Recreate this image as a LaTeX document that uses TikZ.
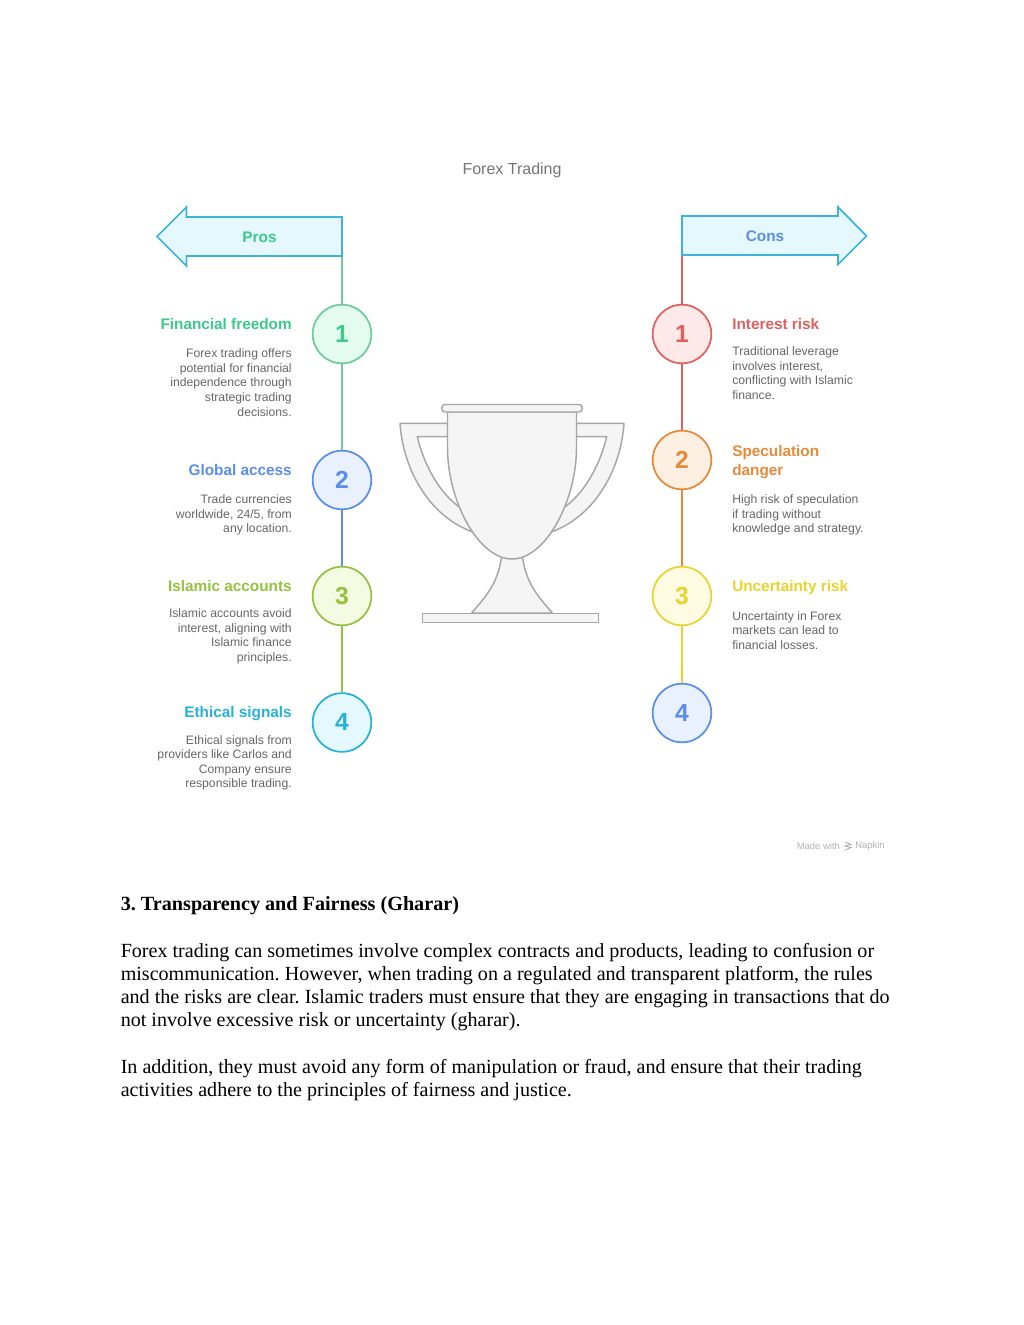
\documentclass[tikz,border=0pt]{standalone}
\usepackage{fontspec}
\setmainfont{Liberation Serif}
\newfontfamily\napfont{Liberation Sans}
\usetikzlibrary{positioning,arrows.meta}

\definecolor{prosgreen}{HTML}{3CC98A}
\definecolor{linegreen}{HTML}{6FCB9B}
\definecolor{tintgreen}{HTML}{E4FBF0}
\definecolor{infoblue}{HTML}{5B8DEA}
\definecolor{tintblue}{HTML}{E9F1FE}
\definecolor{limegreen}{HTML}{94C23F}
\definecolor{tintlime}{HTML}{F4FBE3}
\definecolor{skycyan}{HTML}{27B1D9}
\definecolor{tintsky}{HTML}{E4F8FE}
\definecolor{riskred}{HTML}{E05F5F}
\definecolor{tintred}{HTML}{FDE9E8}
\definecolor{riskorange}{HTML}{E68A3A}
\definecolor{tintorange}{HTML}{FDF0E3}
\definecolor{riskyellow}{HTML}{E9D32E}
\definecolor{tintyellow}{HTML}{FEFBE2}
\definecolor{cupfill}{HTML}{F5F5F5}
\definecolor{cupline}{HTML}{A6A6A6}
\definecolor{bodygray}{HTML}{666666}
\definecolor{arrowline}{HTML}{3DB2DC}

\begin{document}
\frenchspacing
\begin{tikzpicture}[
  x=0.75pt, y=-0.75pt,
  stepnum/.style={circle, draw, line width=1.3pt, minimum size=44pt, inner sep=0pt,
    font=\napfont\bfseries\fontsize{18.5}{18.5}\selectfont},
  head/.style={inner sep=0pt, font=\napfont\bfseries\fontsize{11.5}{14.6}\selectfont},
  lefthead/.style={head, anchor=base east},
  righthead/.style={head, anchor=base west},
  leftnote/.style={inner sep=0pt, anchor=north east, align=right, text=bodygray,
    font=\napfont\fontsize{9.15}{10.95}\selectfont},
  rightnote/.style={inner sep=0pt, anchor=north west, align=left, text=bodygray,
    font=\napfont\fontsize{9.15}{10.95}\selectfont},
  spine/.style={line width=1.3pt},
  banner/.style={draw=arrowline, fill=tintsky, line width=1.3pt, line join=miter},
  cup/.style={draw=cupline, fill=cupfill, line width=1.1pt, line join=round}
]
\useasboundingbox (0,0) rectangle (1024,1325);

\node[inner sep=0pt, text=bodygray!90, font=\napfont\fontsize{12}{14}\selectfont] (title) at (512,170) {Forex Trading};

% banners
\draw[banner] (157,236.5) -- (186.5,207) -- (186.5,217) -- (342,217) -- (342,256) -- (186.5,256) -- (186.5,266) -- cycle;
\draw[banner] (866.5,236) -- (838,207) -- (838,216) -- (682,216) -- (682,255) -- (838,255) -- (838,264.5) -- cycle;
\coordinate (prosfoot) at (342,256.6);
\coordinate (consfoot) at (682,255.6);
\node[head, text=prosgreen, anchor=base] (pros) at (259.5,242) {Pros};
\node[head, text=infoblue, anchor=base] (cons) at (765,241.5) {Cons};

% left column
\node[stepnum, draw=linegreen, fill=tintgreen, text=prosgreen] (p1) at (342,334) {1};
\node[stepnum, draw=infoblue, fill=tintblue, text=infoblue] (p2) at (342,480) {2};
\node[stepnum, draw=limegreen, fill=tintlime, text=limegreen] (p3) at (342,596) {3};
\node[stepnum, draw=skycyan, fill=tintsky, text=skycyan] (p4) at (342,722.5) {4};
\draw[spine, linegreen] (prosfoot) -- (p1);
\draw[spine, linegreen] (p1) -- (p2);
\draw[spine, infoblue] (p2) -- (p3);
\draw[spine, limegreen] (p3) -- (p4);

\node[lefthead, text=prosgreen] (pt1) at (292,329.3) {Financial freedom};
\node[leftnote] (pn1) at (292,348.5) {Forex trading offers\\potential for financial\\independence through\\strategic trading\\decisions.};
\node[lefthead, text=infoblue] (pt2) at (292,475.3) {Global access};
\node[leftnote] (pn2) at (292,494.5) {Trade currencies\\worldwide, 24/5, from\\any location.};
\node[lefthead, text=limegreen] (pt3) at (292,591.8) {Islamic accounts};
\node[leftnote] (pn3) at (292,608.5) {Islamic accounts avoid\\interest, aligning with\\Islamic finance\\principles.};
\node[lefthead, text=skycyan] (pt4) at (292,717.8) {Ethical signals};
\node[leftnote] (pn4) at (292,735) {Ethical signals from\\providers like Carlos and\\Company ensure\\responsible trading.};

% right column
\node[stepnum, draw=riskred, fill=tintred, text=riskred] (c1) at (682,334) {1};
\node[stepnum, draw=riskorange, fill=tintorange, text=riskorange] (c2) at (682,460) {2};
\node[stepnum, draw=riskyellow, fill=tintyellow, text=riskyellow] (c3) at (682,596) {3};
\node[stepnum, draw=infoblue, fill=tintblue, text=infoblue] (c4) at (682,713) {4};
\draw[spine, riskred] (consfoot) -- (c1);
\draw[spine, riskred] (c1) -- (c2);
\draw[spine, riskorange] (c2) -- (c3);
\draw[spine, riskyellow] (c3) -- (c4);

\node[righthead, text=riskred] (ct1) at (732,329.3) {Interest risk};
\node[rightnote] (cn1) at (732,346.5) {Traditional leverage\\involves interest,\\conflicting with Islamic\\finance.};
\node[righthead, text=riskorange] (ct2) at (732,456) {Speculation};
\node[righthead, text=riskorange] (ct2b) at (732,475.3) {danger};
\node[rightnote] (cn2) at (732,494.5) {High risk of speculation\\if trading without\\knowledge and strategy.};
\node[righthead, text=riskyellow] (ct3) at (732,591.8) {Uncertainty risk};
\node[rightnote] (cn3) at (732,611) {Uncertainty in Forex\\markets can lead to\\financial losses.};

% trophy
\draw[cup] (447.5,423.3) -- (400,423.3) .. controls (403,470) and (430,518) .. (475,532.7)
  -- (462.7,509.3) .. controls (440,495) and (424,465) .. (417.3,436.7) -- (447.5,436.7) -- cycle;
\draw[cup] (576.5,423.3) -- (624,423.3) .. controls (621,470) and (594,518) .. (549,532.7)
  -- (561.3,509.3) .. controls (584,495) and (600,465) .. (606.7,436.7) -- (576.5,436.7) -- cycle;
\draw[cup] (501.7,556) .. controls (498,583) and (487,595) .. (471.7,613) -- (552.3,613)
  .. controls (537,595) and (526,583) .. (522.3,556) -- cycle;
\draw[cup] (447.5,412) -- (447.5,448) .. controls (447.5,500) and (478,559) .. (512,559)
  .. controls (546,559) and (576.5,500) .. (576.5,448) -- (576.5,412) -- cycle;
\draw[cup, rounded corners=2.5pt] (441.7,404.5) rectangle (582.3,412);
\draw[cup] (422.7,613.5) rectangle (598.3,622.5);

% footer mark
\node[inner sep=0pt, anchor=west, text=black!30, font=\napfont\fontsize{7.1}{8}\selectfont] (made) at (796.5,846) {Made with};
\node[inner sep=0pt, anchor=west, text=black!30, font=\napfont\fontsize{7.1}{8}\selectfont] (napkin) at (855,846) {Napkin};
\draw[black!30, line width=0.7pt] (845,842) -- (851,844.5) -- (845,846) -- (851,847.5) -- (845,850);

% text below
\node[inner sep=0pt, anchor=base west, font=\bfseries\fontsize{15.13}{17.25}\selectfont] (section) at (120.5,910) {3. Transparency and Fairness (Gharar)};
\node[inner sep=0pt, anchor=north west, align=left, font=\fontsize{15.06}{17.25}\selectfont] (parone) at (120.5,943.5)
  {Forex trading can sometimes involve complex contracts and products, leading to confusion or\\
   miscommunication. However, when trading on a regulated and transparent platform, the rules\\
   and the risks are clear. Islamic traders must ensure that they are engaging in transactions that do\\
   not involve excessive risk or uncertainty (gharar).};
\node[inner sep=0pt, anchor=north west, align=left, font=\fontsize{15.06}{17.25}\selectfont] (partwo) at (120.5,1059.5)
  {In addition, they must avoid any form of manipulation or fraud, and ensure that their trading\\
   activities adhere to the principles of fairness and justice.};
\end{tikzpicture}
\end{document}
